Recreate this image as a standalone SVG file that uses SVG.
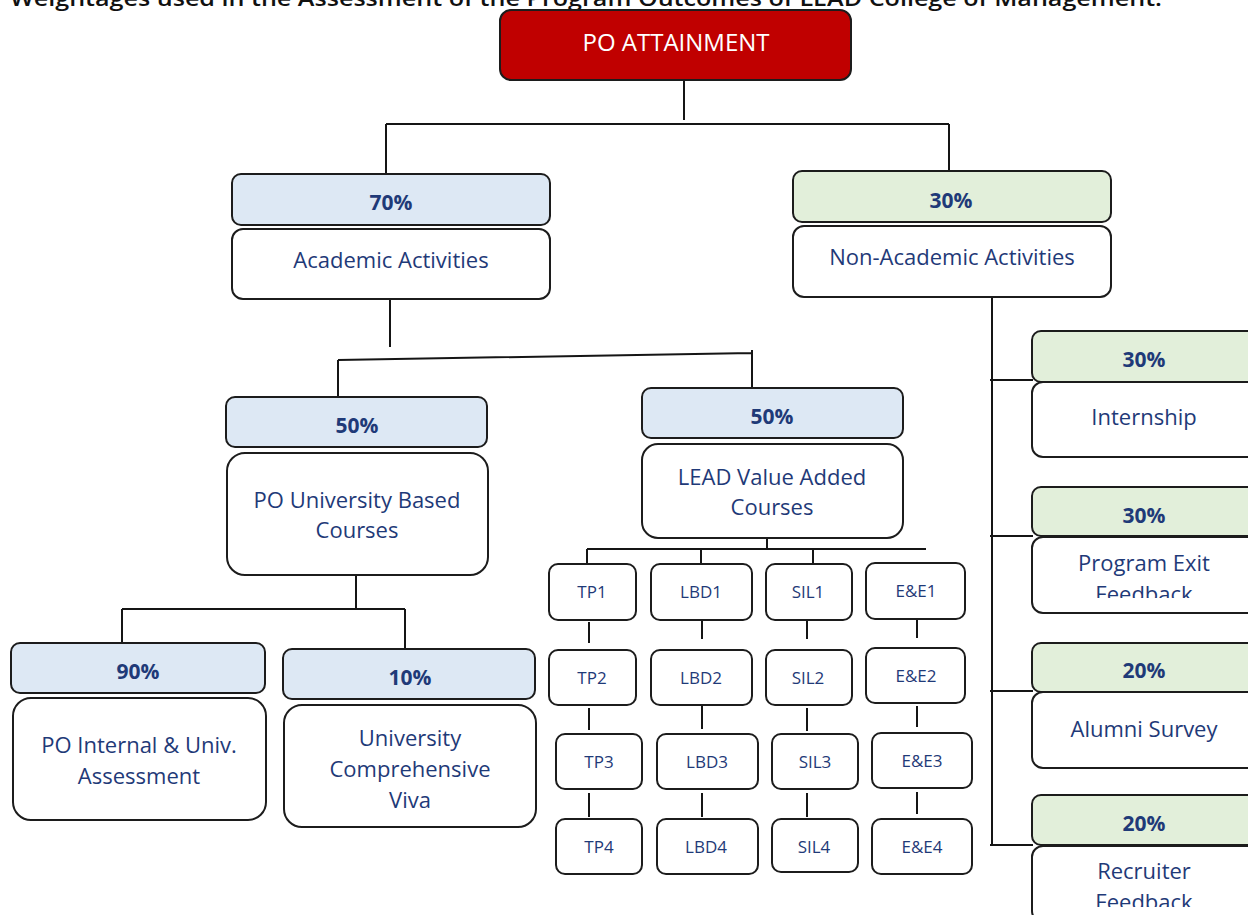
<svg xmlns="http://www.w3.org/2000/svg" width="1248" height="915" viewBox="0 0 1248 915">
  <style>
    .box { stroke: #1c1c1c; stroke-width: 2; }
    .head { fill: #c00000; }
    .blue { fill: #dde8f4; }
    .green { fill: #e2efda; }
    .plain { fill: #ffffff; }
    .lbl { font-family: "Open Sans", "Liberation Sans", sans-serif; font-size: 22px; fill: #1f3a78; text-anchor: middle; }
    .pct { font-family: "Open Sans", "Liberation Sans", sans-serif; font-size: 21px; font-weight: bold; fill: #1f3a78; text-anchor: middle; }
    .small { font-family: "Open Sans", "Liberation Sans", sans-serif; font-size: 17px; fill: #1f3a78; text-anchor: middle; }
    .title { font-family: "Open Sans", "Liberation Sans", sans-serif; font-size: 22px; font-weight: 600; fill: #111111; }
    .top { font-family: "Open Sans", "Liberation Sans", sans-serif; font-size: 24px; fill: #ffffff; text-anchor: middle; }
    .wire { fill: none; stroke: #151515; stroke-width: 2; }
  </style>
  <defs>
    <clipPath id="clipExit"><rect x="1030" y="536" width="230" height="62"/></clipPath>
    <clipPath id="clipRecruiter"><rect x="1030" y="845" width="230" height="62"/></clipPath>
  </defs>

  <rect x="0" y="0" width="1248" height="915" fill="#ffffff"/>

  <text class="title" x="10" y="6" textLength="1152" lengthAdjust="spacingAndGlyphs">Weightages used in the Assessment of the Program Outcomes of LEAD College of Management.</text>

  <!-- connectors -->
  <g id="connectors">
    <path class="wire" d="M684,80 V120 M386,124 H949 M386,124 V173 M949,124 V171"/>
    <path class="wire" d="M390,300 V347 M338,360 L752,353 M338,360 V396 M752,350 V387"/>
    <path class="wire" d="M356,576 V610 M122,609 H405 M122,609 V642 M405,609 V648"/>
    <path class="wire" d="M767,538 V549 M587,549 H926 M587,549 V564 M701,549 V564 M813,549 V564"/>
    <path class="wire" d="M589,622 V643 M589,708 V730 M589,793 V817"/>
    <path class="wire" d="M702,617 V639 M702,706 V729 M702,793 V817"/>
    <path class="wire" d="M807,617 V639 M807,708 V731 M807,793 V817"/>
    <path class="wire" d="M917,616 V638 M917,706 V727 M917,792 V814"/>
    <path class="wire" d="M992,297 V845 M990,380 H1033 M990,536 H1033 M990,691 H1033 M990,845 H1033"/>
  </g>

  <g id="po-attainment">
    <rect class="box head" x="500" y="10" width="351" height="70" rx="11"/>
    <text class="top" x="676" y="51">PO ATTAINMENT</text>
  </g>

  <g id="academic">
    <rect class="box blue" x="232" y="174" width="318" height="51" rx="9"/>
    <text class="pct" x="391" y="210">70%</text>
    <rect class="box plain" x="232" y="229" width="318" height="70" rx="11"/>
    <text class="lbl" x="391" y="268">Academic Activities</text>
  </g>

  <g id="non-academic">
    <rect class="box green" x="793" y="171" width="318" height="51" rx="9"/>
    <text class="pct" x="951" y="208">30%</text>
    <rect class="box plain" x="793" y="226" width="318" height="71" rx="11"/>
    <text class="lbl" x="952" y="265">Non-Academic Activities</text>
  </g>

  <g id="university-courses">
    <rect class="box blue" x="226" y="397" width="261" height="50" rx="9"/>
    <text class="pct" x="357" y="433">50%</text>
    <rect class="box plain" x="227" y="453" width="261" height="122" rx="18"/>
    <text class="lbl" x="357" y="508">PO University Based</text>
    <text class="lbl" x="357" y="538">Courses</text>
  </g>

  <g id="value-added">
    <rect class="box blue" x="642" y="388" width="261" height="50" rx="9"/>
    <text class="pct" x="772" y="424">50%</text>
    <rect class="box plain" x="642" y="444" width="261" height="94" rx="16"/>
    <text class="lbl" x="772" y="485">LEAD Value Added</text>
    <text class="lbl" x="772" y="515">Courses</text>
  </g>

  <g id="internal-assessment">
    <rect class="box blue" x="11" y="643" width="254" height="50" rx="9"/>
    <text class="pct" x="138" y="679">90%</text>
    <rect class="box plain" x="13" y="698" width="253" height="122" rx="18"/>
    <text class="lbl" x="139" y="753">PO Internal &amp; Univ.</text>
    <text class="lbl" x="139" y="784">Assessment</text>
  </g>

  <g id="comprehensive-viva">
    <rect class="box blue" x="283" y="649" width="252" height="50" rx="9"/>
    <text class="pct" x="410" y="685">10%</text>
    <rect class="box plain" x="284" y="705" width="252" height="122" rx="18"/>
    <text class="lbl" x="410" y="746">University</text>
    <text class="lbl" x="410" y="777">Comprehensive</text>
    <text class="lbl" x="410" y="808">Viva</text>
  </g>

  <!-- course grid -->
  <g id="tp1"><rect class="box plain" x="549" y="564" width="87" height="56" rx="9"/><text class="small" x="592" y="598">TP1</text></g>
  <g id="tp2"><rect class="box plain" x="549" y="650" width="87" height="55" rx="9"/><text class="small" x="592" y="684">TP2</text></g>
  <g id="tp3"><rect class="box plain" x="556" y="734" width="86" height="55" rx="9"/><text class="small" x="599" y="768">TP3</text></g>
  <g id="tp4"><rect class="box plain" x="556" y="819" width="86" height="55" rx="9"/><text class="small" x="599" y="853">TP4</text></g>

  <g id="lbd1"><rect class="box plain" x="651" y="564" width="101" height="56" rx="9"/><text class="small" x="701" y="598">LBD1</text></g>
  <g id="lbd2"><rect class="box plain" x="651" y="650" width="101" height="55" rx="9"/><text class="small" x="701" y="684">LBD2</text></g>
  <g id="lbd3"><rect class="box plain" x="657" y="734" width="101" height="55" rx="9"/><text class="small" x="707" y="768">LBD3</text></g>
  <g id="lbd4"><rect class="box plain" x="657" y="819" width="101" height="55" rx="9"/><text class="small" x="706" y="853">LBD4</text></g>

  <g id="sil1"><rect class="box plain" x="766" y="564" width="86" height="56" rx="9"/><text class="small" x="808" y="598">SIL1</text></g>
  <g id="sil2"><rect class="box plain" x="766" y="650" width="86" height="55" rx="9"/><text class="small" x="808" y="684">SIL2</text></g>
  <g id="sil3"><rect class="box plain" x="772" y="734" width="86" height="55" rx="9"/><text class="small" x="815" y="768">SIL3</text></g>
  <g id="sil4"><rect class="box plain" x="772" y="819" width="86" height="53" rx="9"/><text class="small" x="814" y="853">SIL4</text></g>

  <g id="ee1"><rect class="box plain" x="866" y="563" width="99" height="56" rx="9"/><text class="small" x="916" y="597">E&amp;E1</text></g>
  <g id="ee2"><rect class="box plain" x="866" y="648" width="99" height="55" rx="9"/><text class="small" x="916" y="682">E&amp;E2</text></g>
  <g id="ee3"><rect class="box plain" x="872" y="733" width="100" height="55" rx="9"/><text class="small" x="922" y="767">E&amp;E3</text></g>
  <g id="ee4"><rect class="box plain" x="872" y="819" width="100" height="55" rx="9"/><text class="small" x="922" y="853">E&amp;E4</text></g>

  <!-- non-academic components -->
  <g id="internship">
    <rect class="box green" x="1032" y="331" width="226" height="51" rx="9"/>
    <text class="pct" x="1144" y="367">30%</text>
    <rect class="box plain" x="1032" y="382" width="226" height="75" rx="11"/>
    <text class="lbl" x="1144" y="425">Internship</text>
  </g>

  <g id="exit-feedback">
    <rect class="box green" x="1032" y="487" width="226" height="49" rx="9"/>
    <text class="pct" x="1144" y="523">30%</text>
    <rect class="box plain" x="1032" y="537" width="226" height="76" rx="11"/>
    <g clip-path="url(#clipExit)">
      <text class="lbl" x="1144" y="571">Program Exit</text>
      <text class="lbl" x="1144" y="602">Feedback</text>
    </g>
  </g>

  <g id="alumni-survey">
    <rect class="box green" x="1032" y="643" width="226" height="49" rx="9"/>
    <text class="pct" x="1144" y="678">20%</text>
    <rect class="box plain" x="1032" y="692" width="226" height="76" rx="11"/>
    <text class="lbl" x="1144" y="737">Alumni Survey</text>
  </g>

  <g id="recruiter-feedback">
    <rect class="box green" x="1032" y="795" width="226" height="50" rx="9"/>
    <text class="pct" x="1144" y="831">20%</text>
    <rect class="box plain" x="1032" y="846" width="226" height="76" rx="11"/>
    <g clip-path="url(#clipRecruiter)">
      <text class="lbl" x="1144" y="879">Recruiter</text>
      <text class="lbl" x="1144" y="910">Feedback</text>
    </g>
  </g>
</svg>
